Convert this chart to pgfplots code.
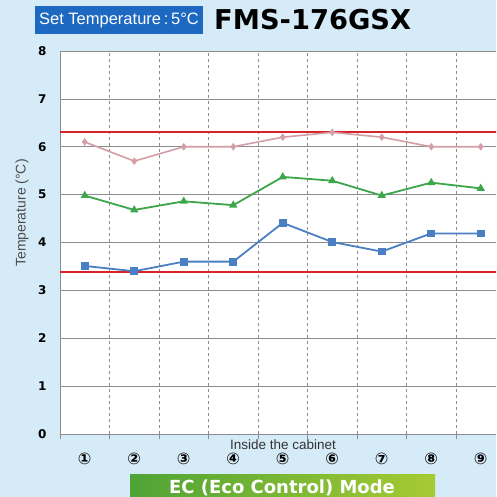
\documentclass[border=0pt]{standalone}
\usepackage{fontspec}
\setmainfont{Liberation Sans}
\newfontfamily\dejavu{DejaVu Sans}
\usepackage{pgfplots}
\pgfplotsset{compat=1.18}
\definecolor{bgblue}{HTML}{D6EBF8}
\definecolor{boxblue}{HTML}{1D68C0}
\definecolor{pinkl}{HTML}{D49EA6}
\definecolor{greenl}{HTML}{3DA64B}
\definecolor{bluel}{HTML}{4A80C3}
\definecolor{redl}{HTML}{D8232A}
\definecolor{gridg}{HTML}{8C8C8C}
\definecolor{banl}{HTML}{4EA336}
\definecolor{banr}{HTML}{A6CB33}
\begin{document}
\begin{tikzpicture}
\useasboundingbox (0,0) rectangle (496pt,497pt);
\fill[bgblue] (0,0) rectangle (496pt,497pt);
% title
\fill[boxblue] (35pt,463pt) rectangle (203pt,491pt);
\node[text=white, font=\fontsize{16.5}{18}\selectfont, anchor=center] at (119pt,477pt) {Set Temperature\,:\,5°C};
\node[font=\dejavu\bfseries\fontsize{27.3}{29}\selectfont, anchor=west, inner sep=0pt] at (214pt,477pt) {FMS-176GSX};
% y label
\node[rotate=90, text=black!70, font=\fontsize{14}{16}\selectfont] at (22pt,284pt) {Temperature (°C)};
\begin{axis}[
  at={(60pt,63pt)}, anchor=south west,
  scale only axis, width=436pt, height=383pt,
  xmin=0.5, xmax=9.308, ymin=0, ymax=8,
  axis x line=bottom, axis y line=left,
  axis line style={-, gridg},
  axis background/.style={fill=white},
  xtick={0.5,1.5,...,8.5}, xticklabels={},
  ytick={0,1,...,8},
  xmajorgrids, ymajorgrids,
  x grid style={gridg, dashed, line width=0.6pt},
  y grid style={gridg, line width=0.6pt},
  tick align=outside,
  x tick style={gridg, line width=0.6pt}, major tick length=5pt,
  y tick style={draw=none},
  /pgf/number format/assume math mode=true,
  yticklabel style={font=\dejavu\bfseries\fontsize{12}{14}\selectfont, xshift=-5pt},
  extra x ticks={1,2,3,4,5,6,7,8,9},
  extra x tick labels={①,②,③,④,⑤,⑥,⑦,⑧,⑨},
  extra x tick style={grid=none, major tick length=0pt,
    tick label style={font=\dejavu\bfseries\fontsize{16}{18}\selectfont, yshift=-19pt, inner sep=0pt}},
  clip mode=individual,
]
\addplot[redl, line width=2pt] coordinates {(0.3,6.3) (9.5,6.3)};
\addplot[redl, line width=2pt] coordinates {(0.3,3.39) (9.5,3.39)};
\addplot[pinkl, line width=1.6pt, mark=diamond*, mark size=2.5pt] coordinates {
(1,6.10) (2,5.70) (3,6.00) (4,6.00) (5,6.20) (6,6.30) (7,6.20) (8,6.00) (9,6.00)};
\addplot[greenl, line width=1.8pt, mark=triangle*, mark size=3pt] coordinates {
(1,4.98) (2,4.68) (3,4.86) (4,4.78) (5,5.37) (6,5.29) (7,4.98) (8,5.25) (9,5.13)};
\addplot[bluel, line width=1.8pt, mark=square*, mark size=3pt] coordinates {
(1,3.51) (2,3.40) (3,3.60) (4,3.60) (5,4.41) (6,4.01) (7,3.81) (8,4.19) (9,4.19)};
\end{axis}
\node[font=\fontsize{13.5}{15}\selectfont, text=black!80, inner sep=0pt] at (283pt,52pt) {Inside the cabinet};
% bottom banner
\shade[left color=banl, right color=banr] (130pt,0pt) rectangle (435pt,22pt);
\node[text=white, font=\dejavu\bfseries\fontsize{18}{20}\selectfont, anchor=center] at (282pt,9pt) {EC (Eco Control) Mode};
\end{tikzpicture}
\end{document}
